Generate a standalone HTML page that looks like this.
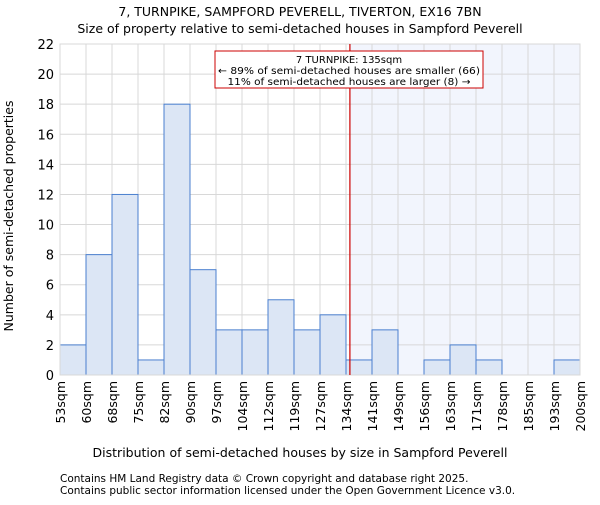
<!DOCTYPE html>
<html><head><meta charset="utf-8"><style>body{margin:0;background:#fff}svg{font-family:"DejaVu Sans","Liberation Sans",sans-serif}</style></head>
<body>
<svg id="c" width="600" height="500" xmlns="http://www.w3.org/2000/svg"></svg>
<script>
const binLabels=["53sqm","60sqm","68sqm","75sqm","82sqm","90sqm","97sqm","104sqm","112sqm","119sqm","127sqm","134sqm","141sqm","149sqm","156sqm","163sqm","171sqm","178sqm","185sqm","193sqm","200sqm"];
const counts=[2,8,12,1,18,7,3,3,5,3,4,1,3,0,1,2,1,0,0,1];
const yTicks=[0,2,4,6,8,10,12,14,16,18,20,22];
const markerBin=11.15;
const svg=document.getElementById('c');const NS='http://www.w3.org/2000/svg';
const L=60,R=580,T=44,B=375,yMax=22;
const x=i=>L+(R-L)*i/counts.length;
const y=v=>B-(B-T)*v/yMax;
function mk(t,a,p){const e=document.createElementNS(NS,t);for(const k in a)e.setAttribute(k,a[k]);(p||svg).appendChild(e);return e;}
let e;
e=mk('rect',{x:x(markerBin),y:T,width:R-x(markerBin),height:B-T,fill:'#f2f5fd'});


yTicks.forEach(v=>{e=mk('line',{x1:L,x2:R,y1:y(v),y2:y(v),stroke:'#d8d8d8'});


e=mk('text',{x:L-6,y:y(v)+5,'text-anchor':'end','font-size':13});e.textContent=v;

});
binLabels.forEach((s,i)=>{e=mk('line',{x1:x(i),x2:x(i),y1:T,y2:B,stroke:'#d8d8d8'});


e=mk('text',{transform:`translate(${x(i)+5},${B+6}) rotate(-90)`,'text-anchor':'end','font-size':12.5});e.textContent=s;

});
counts.forEach((v,i)=>{if(v<=0)return;e=mk('rect',{x:x(i),y:y(v),width:x(i+1)-x(i),height:B-y(v),fill:'#dce6f5',stroke:'#4a7fcf','stroke-width':1});

});
e=mk('rect',{x:L,y:T,width:R-L,height:B-T,fill:'none',stroke:'#d8d8d8'});


e=mk('line',{x1:x(markerBin),x2:x(markerBin),y1:T,y2:B,stroke:'#cc0000','stroke-width':1.2});


const g=mk('g',{});


mk('rect',{x:215,y:51,width:268,height:37,fill:'#fff',stroke:'#cc0000'},g);
[["7 TURNPIKE: 135sqm",63],["← 89% of semi-detached houses are smaller (66)",74],["11% of semi-detached houses are larger (8) →",85]].forEach(([t,yy])=>{const s=mk('text',{x:349,y:yy,'text-anchor':'middle','font-size':10,textLength:t.length>25?262:0,lengthAdjust:'spacingAndGlyphs'},g);if(t.length<=25)s.removeAttribute('textLength');if(t.startsWith('11'))s.setAttribute('textLength',243);s.textContent=t;});
function txt(t,a,name){const s=mk('text',a);s.textContent=t;}
txt("7, TURNPIKE, SAMPFORD PEVERELL, TIVERTON, EX16 7BN",{x:300,y:16,'text-anchor':'middle','font-size':12.5},'chart-title');
txt("Size of property relative to semi-detached houses in Sampford Peverell",{x:300,y:33,'text-anchor':'middle','font-size':12.5},'chart-subtitle');
txt("Distribution of semi-detached houses by size in Sampford Peverell",{x:300,y:457,'text-anchor':'middle','font-size':12.5},'x-axis-title');
txt("Number of semi-detached properties",{transform:'translate(13,216) rotate(-90)','text-anchor':'middle','font-size':12.5},'y-axis-title');
txt("Contains HM Land Registry data © Crown copyright and database right 2025.",{x:60,y:482,'font-size':10.5},'footnote-1');
txt("Contains public sector information licensed under the Open Government Licence v3.0.",{x:60,y:494,'font-size':10.5},'footnote-2');
</script>
</body></html>
